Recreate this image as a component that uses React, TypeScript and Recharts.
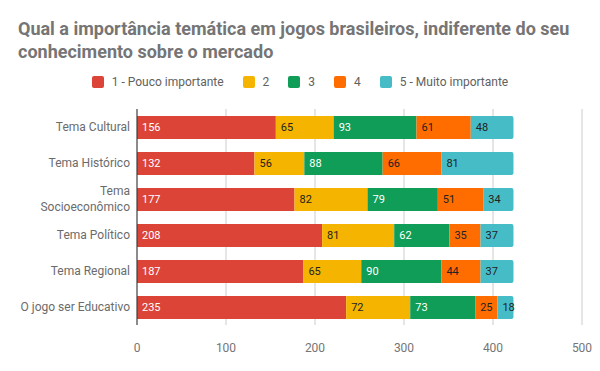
import { BarChart, Bar, XAxis, YAxis, CartesianGrid, LabelList } from "recharts";

const categories = [
  "Tema Cultural",
  "Tema Histórico",
  "Tema\nSocioeconômico",
  "Tema Político",
  "Tema Regional",
  "O jogo ser Educativo",
];

const pouco = [156, 132, 177, 208, 187, 235];
const dois = [65, 56, 82, 81, 65, 72];
const tres = [93, 88, 79, 62, 90, 73];
const quatro = [61, 66, 51, 35, 44, 25];
const muito = [48, 81, 34, 37, 37, 18];

const xTicks = [0, 100, 200, 300, 400, 500];

const series = [
  { key: "s1", name: "1 - Pouco importante", values: pouco, color: "#db4437", label: "#ffffff" },
  { key: "s2", name: "2", values: dois, color: "#f4b400", label: "#222222" },
  { key: "s3", name: "3", values: tres, color: "#0f9d58", label: "#ffffff" },
  { key: "s4", name: "4", values: quatro, color: "#ff6d00", label: "#222222" },
  { key: "s5", name: "5 - Muito importante", values: muito, color: "#46bdc6", label: "#222222" },
];

const data = categories.map((name, i) => {
  const row: Record<string, string | number> = { name };
  series.forEach((s) => (row[s.key] = s.values[i]));
  return row;
});

const CategoryTick = (props: any) => {
  const { x, y, payload } = props;
  const lines = String(payload.value).split("\n");
  const lh = 16;
  const y0 = y - ((lines.length - 1) * lh) / 2;
  return (
    <text x={x} y={y0} textAnchor="end" fill="#6b6b6b" fontSize={12} dominantBaseline="central">
      {lines.map((l, i) => (
        <tspan key={i} x={x} y={y0 + i * lh} dominantBaseline="central">
          {l}
        </tspan>
      ))}
    </text>
  );
};

export default function App() {
  return (
    <div
      style={{
        position: "absolute",
        left: 0,
        top: 0,
        width: 600,
        height: 371,
        background: "#fff",
        fontFamily: "Roboto, sans-serif",
      }}
    >
      <div
        style={{
          position: "absolute",
          left: 18,
          top: 17,
          width: 580,
          fontSize: 18,
          fontWeight: "bold",
          color: "#757575",
          lineHeight: "23px",
          zIndex: 2,
        }}
      >
        Qual a importância temática em jogos brasileiros, indiferente do seu conhecimento sobre o mercado
      </div>
      <div
        style={{
          position: "absolute",
          top: 75,
          left: 0,
          width: 600,
          display: "flex",
          justifyContent: "center",
          gap: 19,
          fontSize: 12,
          color: "#616161",
          zIndex: 2,
        }}
      >
        {series.map((s) => (
          <div key={s.key} style={{ display: "flex", alignItems: "center" }}>
            <span
              style={{
                width: 12,
                height: 12,
                borderRadius: 2,
                background: s.color,
                display: "inline-block",
                marginRight: 8,
              }}
            />
            {s.name}
          </div>
        ))}
      </div>
      <BarChart
        width={600}
        height={371}
        data={data}
        layout="vertical"
        margin={{ top: 109, right: 18, bottom: 16, left: 0 }}
        barSize={23}
      >
        <CartesianGrid horizontal={false} stroke="#cccccc" />
        <XAxis
          type="number"
          domain={[0, 500]}
          ticks={xTicks}
          axisLine={false}
          tickLine={false}
          tickMargin={12}
          height={30}
          tick={{ fill: "#757575", fontSize: 12 }}
        />
        <YAxis
          type="category"
          dataKey="name"
          width={137}
          axisLine={{ stroke: "#333333" }}
          tickLine={false}
          tickSize={0}
          tickMargin={7}
          tick={<CategoryTick />}
          interval={0}
        />
        {series.map((s, i) => (
          <Bar
            key={s.key}
            dataKey={s.key}
            name={s.name}
            stackId="a"
            fill={s.color}
            isAnimationActive={false}
            radius={i === series.length - 1 ? [0, 2, 2, 0] : 0}
          >
            <LabelList dataKey={s.key} position="insideLeft" offset={5} fill={s.label} fontSize={11} />
          </Bar>
        ))}
      </BarChart>
    </div>
  );
}
